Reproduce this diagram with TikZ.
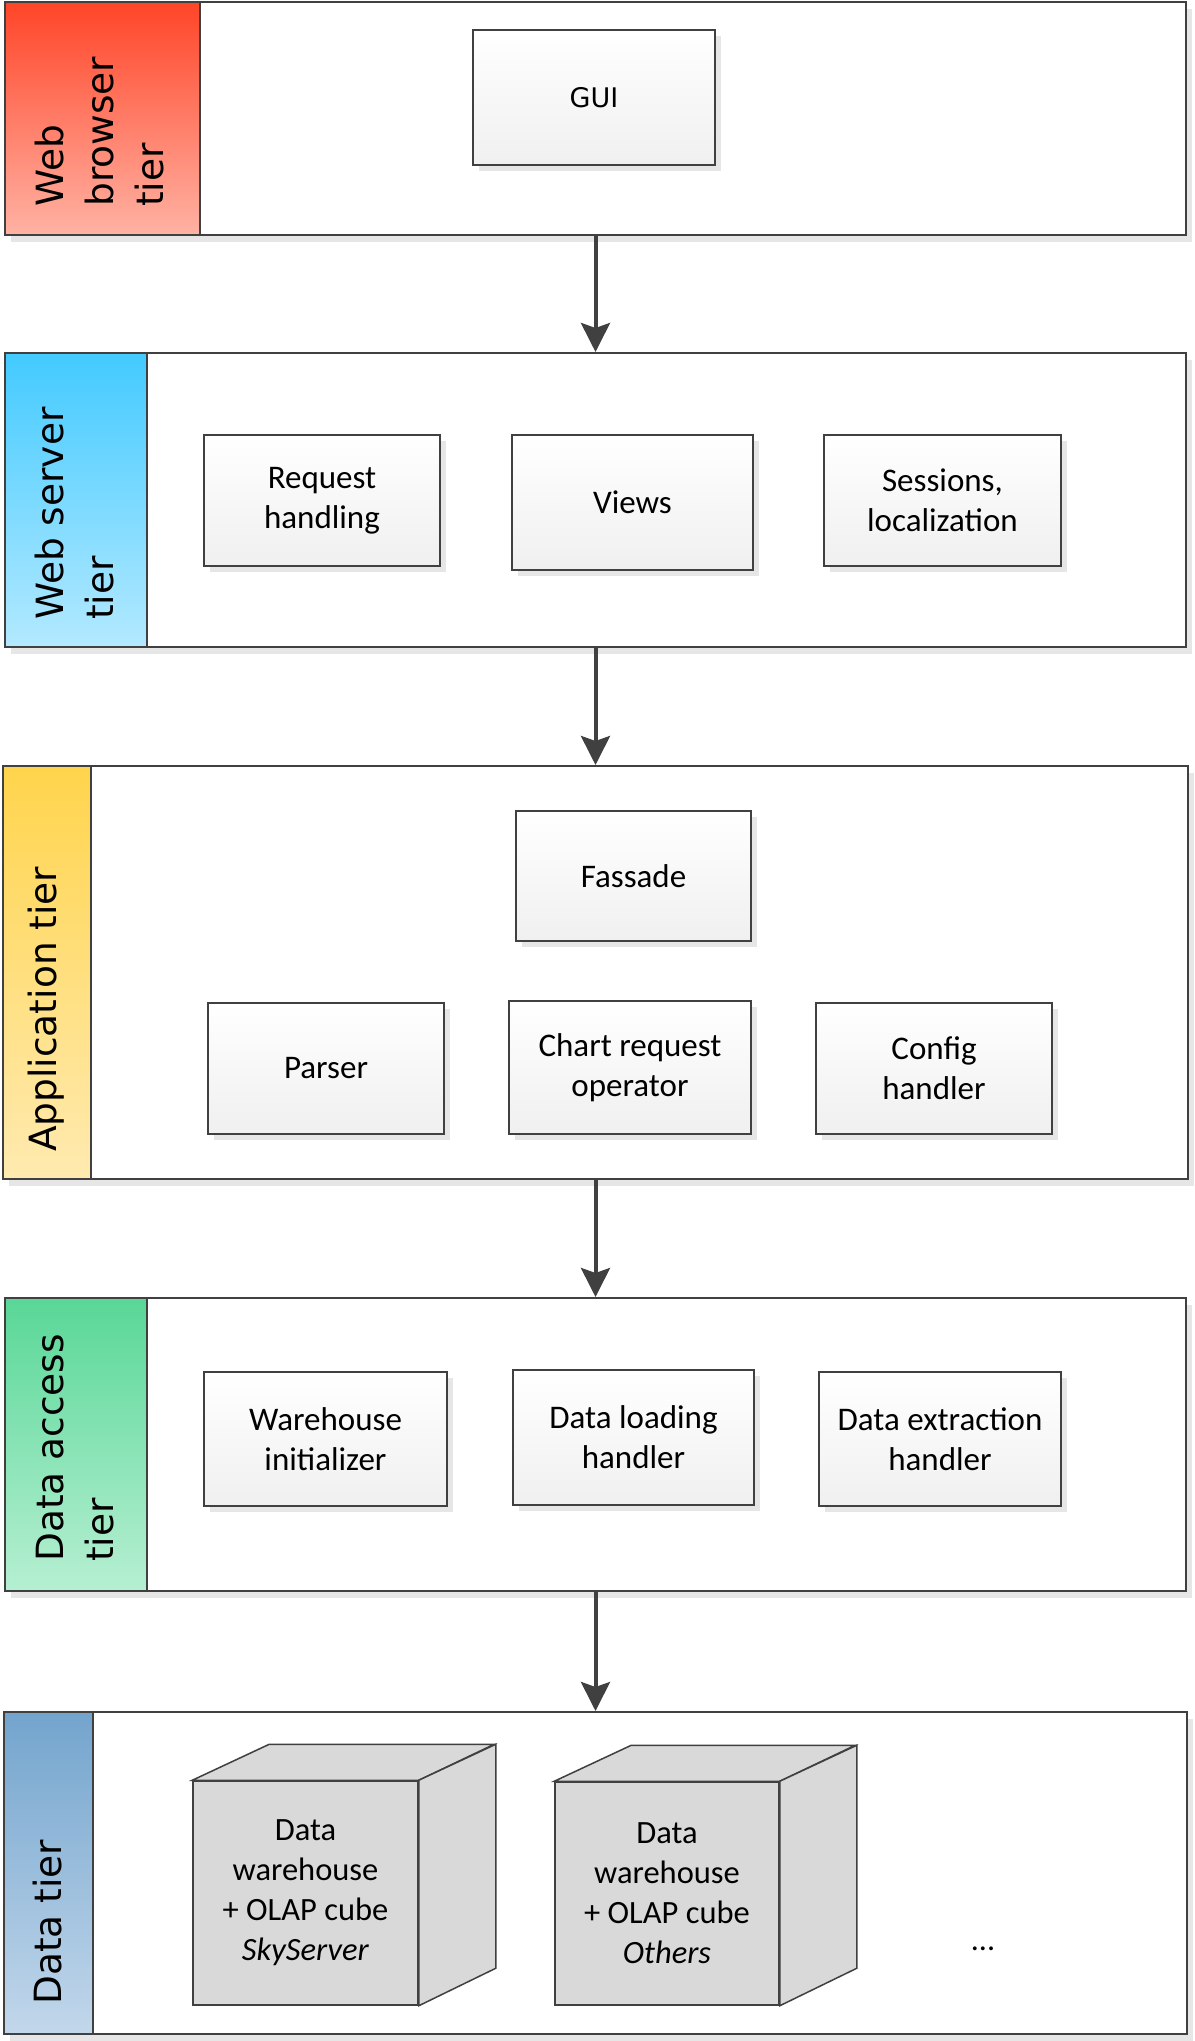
\documentclass[tikz,border=0pt]{standalone}
\usepackage{fontspec}
\setmainfont{Carlito}
\newfontfamily\dejavu{DejaVu Sans}
\usetikzlibrary{arrows.meta,shadows}
\definecolor{edgec}{HTML}{404040}
\definecolor{shadowc}{HTML}{E6E6E6}
\definecolor{redT}{HTML}{FF4528}
\definecolor{redB}{HTML}{FFB2A4}
\definecolor{blueT}{HTML}{43CAFF}
\definecolor{blueB}{HTML}{B3E9FF}
\definecolor{yelT}{HTML}{FFD44C}
\definecolor{yelB}{HTML}{FFEAB0}
\definecolor{grnT}{HTML}{59D797}
\definecolor{grnB}{HTML}{B6EFD2}
\definecolor{dbT}{HTML}{73A4CD}
\definecolor{dbB}{HTML}{C2D7EB}
\definecolor{cubec}{HTML}{D9D9D9}
\tikzset{
  tierbox/.style={draw=edgec, line width=2pt, fill=white, anchor=north west, inner sep=0,
    drop shadow={shadow xshift=6pt, shadow yshift=-7pt, fill=shadowc, opacity=1}},
  stripbox/.style={draw=edgec, line width=2pt, anchor=north west, inner sep=0},
  tierlabel/.style={rotate=90, anchor=west, align=left, inner sep=0,
    font=\dejavu\fontsize{37.5}{50}\selectfont},
  compbox/.style={draw=edgec, line width=1.5pt, top color=white, bottom color=black!6,
    drop shadow={shadow xshift=6pt, shadow yshift=-6pt, fill=shadowc, opacity=1},
    align=center, inner sep=0, font=\fontsize{33}{40}\selectfont},
  cubefront/.style={draw=edgec, line width=1.5pt, fill=cubec, align=center, inner sep=0,
    font=\fontsize{32.5}{40}\selectfont},
  cubeside/.style={draw=edgec, line width=1.5pt, fill=cubec, line join=miter},
  arr/.style={draw=edgec, line width=4pt, -{Stealth[length=29pt, width=29pt, inset=5pt]}},
}
\begin{document}
\begin{tikzpicture}[x=1pt,y=-1pt]
\useasboundingbox (0,0) rectangle (1194,2041);

% Tier 1
\node[tierbox, minimum width=1181, minimum height=233] (t1) at (4,1) {};
\node[stripbox, minimum width=195, minimum height=233, top color=redT, bottom color=redB] (s1) at (4,1) {};
\node[tierlabel] (l1) at (100,207) {Web\\browser\\tier};
\node[compbox, font=\dejavu\fontsize{27}{34}\selectfont, minimum width=242, minimum height=135] (gui) at (594,97.5) {GUI};

% Tier 2
\node[tierbox, minimum width=1181, minimum height=294] (t2) at (4,352) {};
\node[stripbox, minimum width=142, minimum height=294, top color=blueT, bottom color=blueB] (s2) at (4,352) {};
\node[tierlabel] (l2) at (75,620) {Web server\\tier};
\node[compbox, minimum width=236, minimum height=131] (req) at (322,500.5) {Request\\handling};
\node[compbox, minimum width=241, minimum height=135] (views) at (632.5,502.5) {Views};
\node[compbox, minimum width=237, minimum height=131] (sess) at (942.5,500.5) {Sessions,\\localization};

% Tier 3
\node[tierbox, minimum width=1185, minimum height=413] (t3) at (2,765) {};
\node[stripbox, minimum width=88, minimum height=413, top color=yelT, bottom color=yelB] (s3) at (2,765) {};
\node[tierlabel] (l3) at (46,1152) {Application tier};
\node[compbox, minimum width=235, minimum height=130] (fas) at (633.5,876) {Fassade};
\node[compbox, minimum width=236, minimum height=131] (pars) at (326,1068.5) {Parser};
\node[compbox, minimum width=242, minimum height=133] (chart) at (630,1067.5) {Chart request\\operator};
\node[compbox, minimum width=236, minimum height=131] (conf) at (934,1068.5) {Config\\handler};

% Tier 4
\node[tierbox, minimum width=1181, minimum height=293] (t4) at (4,1297) {};
\node[stripbox, minimum width=142, minimum height=293, top color=grnT, bottom color=grnB] (s4) at (4,1297) {};
\node[tierlabel] (l4) at (75,1562) {Data access\\tier};
\node[compbox, minimum width=243, minimum height=134] (wini) at (325.5,1439) {Warehouse\\initializer};
\node[compbox, minimum width=241, minimum height=135] (dload) at (633.5,1437.5) {Data loading\\handler};
\node[compbox, minimum width=242, minimum height=134] (dext) at (940,1439) {Data extraction\\handler};

% Tier 5
\node[tierbox, minimum width=1183, minimum height=322] (t5) at (3,1711) {};
\node[stripbox, minimum width=89, minimum height=322, top color=dbT, bottom color=dbB] (s5) at (3,1711) {};
\node[tierlabel] (l5) at (47.5,2005) {Data tier};

% Cubes
\node[cubefront, minimum width=225, minimum height=224] (c1) at (305.5,1893)
  {Data\\warehouse\\+ OLAP cube\\\textit{SkyServer}};
\draw[cubeside] (c1.north west) -- ++(77,-36) -- ++(225,0) -- (c1.north east) -- cycle;
\draw[cubeside] (c1.north east) -- ++(77,-36) -- ++(0,224) -- (c1.south east) -- cycle;
\node[cubefront, minimum width=224, minimum height=223] (c2) at (667,1893.5)
  {Data\\warehouse\\+ OLAP cube\\\textit{Others}};
\draw[cubeside] (c2.north west) -- ++(77,-36) -- ++(224,0) -- (c2.north east) -- cycle;
\draw[cubeside] (c2.north east) -- ++(77,-36) -- ++(0,223) -- (c2.south east) -- cycle;
\node[font=\fontsize{32}{40}\selectfont] (dots) at (983,1949) {...};

% Arrows
\draw[arr] (t1.south) -- (t2.north);
\draw[arr] (t2.south) -- (t3.north);
\draw[arr] (t3.south) -- (t4.north);
\draw[arr] (t4.south) -- (t5.north);
\end{tikzpicture}
\end{document}
